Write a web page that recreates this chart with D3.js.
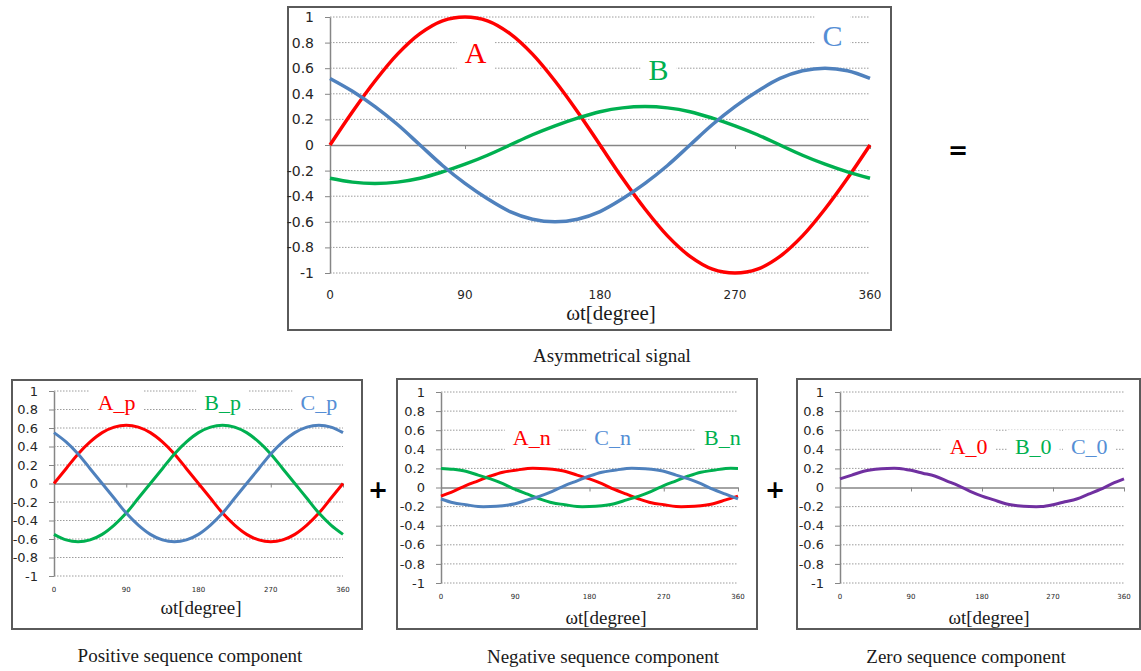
<!DOCTYPE html>
<html>
<head>
<meta charset="utf-8">
<script src="https://cdn.jsdelivr.net/npm/d3@7/dist/d3.min.js"></script>
<style>
  body { margin: 0; background: #fff; }
  svg { display: block; }
</style>
</head>
<body>
<script>
'use strict';

// angle samples, degree
const degrees = [0, 15, 30, 45, 60, 75, 90, 105, 120, 135, 150, 165, 180,
  195, 210, 225, 240, 255, 270, 285, 300, 315, 330, 345, 360];

const xTicks = [0, 90, 180, 270, 360];
const yTicks = [1, 0.8, 0.6, 0.4, 0.2, 0, -0.2, -0.4, -0.6, -0.8, -1];
const yTickLabels = ['1', '0.8', '0.6', '0.4', '0.2', '0', '-0.2', '-0.4', '-0.6', '-0.8', '-1'];

// asymmetrical signal
const signalA = [0, 0.26, 0.5, 0.71, 0.87, 0.97, 1, 0.97, 0.87, 0.71, 0.5, 0.26, 0,
  -0.26, -0.5, -0.71, -0.87, -0.97, -1, -0.97, -0.87, -0.71, -0.5, -0.26, 0];
const signalB = [-0.26, -0.29, -0.3, -0.29, -0.26, -0.21, -0.15, -0.08, 0, 0.08, 0.15, 0.21, 0.26,
  0.29, 0.3, 0.29, 0.26, 0.21, 0.15, 0.08, 0, -0.08, -0.15, -0.21, -0.26];
const signalC = [0.52, 0.42, 0.3, 0.16, 0, -0.16, -0.3, -0.42, -0.52, -0.58, -0.6, -0.58, -0.52,
  -0.42, -0.3, -0.16, 0, 0.16, 0.3, 0.42, 0.52, 0.58, 0.6, 0.58, 0.52];

// positive sequence
const posA = [0, 0.16, 0.32, 0.45, 0.55, 0.61, 0.63, 0.61, 0.55, 0.45, 0.32, 0.16, 0,
  -0.16, -0.32, -0.45, -0.55, -0.61, -0.63, -0.61, -0.55, -0.45, -0.32, -0.16, 0];
const posB = [-0.55, -0.61, -0.63, -0.61, -0.55, -0.45, -0.32, -0.16, 0, 0.16, 0.32, 0.45, 0.55,
  0.61, 0.63, 0.61, 0.55, 0.45, 0.32, 0.16, 0, -0.16, -0.32, -0.45, -0.55];
const posC = [0.55, 0.45, 0.32, 0.16, 0, -0.16, -0.32, -0.45, -0.55, -0.61, -0.63, -0.61, -0.55,
  -0.45, -0.32, -0.16, 0, 0.16, 0.32, 0.45, 0.55, 0.61, 0.63, 0.61, 0.55];

// negative sequence
const negA = [-0.09, -0.04, 0.02, 0.07, 0.12, 0.16, 0.18, 0.2, 0.2, 0.19, 0.17, 0.13, 0.09,
  0.04, -0.02, -0.07, -0.12, -0.16, -0.18, -0.2, -0.2, -0.19, -0.17, -0.13, -0.09];
const negB = [0.2, 0.19, 0.17, 0.13, 0.09, 0.04, -0.02, -0.07, -0.12, -0.16, -0.18, -0.2, -0.2,
  -0.19, -0.17, -0.13, -0.09, -0.04, 0.02, 0.07, 0.12, 0.16, 0.18, 0.2, 0.2];
const negC = [-0.12, -0.16, -0.18, -0.2, -0.2, -0.19, -0.17, -0.13, -0.09, -0.04, 0.02, 0.07, 0.12,
  0.16, 0.18, 0.2, 0.2, 0.19, 0.17, 0.13, 0.09, 0.04, -0.02, -0.07, -0.12];

// zero sequence (A_0 = B_0 = C_0)
const zeroSeq = [0.09, 0.13, 0.17, 0.19, 0.2, 0.2, 0.18, 0.15, 0.12, 0.07, 0.02, -0.04, -0.09,
  -0.13, -0.17, -0.19, -0.2, -0.2, -0.18, -0.15, -0.12, -0.07, -0.02, 0.04, 0.09];

(function() {

  const RED = '#ff0000', GREEN = '#00b050', BLUE = '#4f81bd', PURPLE = '#7030a0';
  const BLUE_TEXT = '#558ed5';
  const SERIF = '"Liberation Serif", "Times New Roman", serif';
  const SANS = '"DejaVu Sans", Verdana, sans-serif';

  let svg = null;

  // layout of the four charts; frame and plot are [left, top, right, bottom]
  const panels = [
    {
      frame: [288, 7, 891, 330], plot: [330, 17, 870, 273],
      lineWidth: 3.5, yFont: 14, xFont: 12, xLabelY: 295,
      title: 'ωt[degree]', titleX: 611, titleY: 313, titleFont: 21,
      caption: 'Asymmetrical signal', captionX: 612, captionY: 355,
      series: [[signalA, RED], [signalB, GREEN], [signalC, BLUE]],
      labelFont: 30,
      labels: [['A', RED, 97, 0.64], ['B', GREEN, 219, 0.51], ['C', BLUE_TEXT, 335, 0.77]]
    },
    {
      frame: [12, 380, 362, 629], plot: [54, 391, 343, 576],
      lineWidth: 3, yFont: 13, xFont: 7, xLabelY: 590,
      title: 'ωt[degree]', titleX: 201, titleY: 607, titleFont: 19,
      caption: 'Positive sequence component', captionX: 190, captionY: 655,
      series: [[posA, RED], [posB, GREEN], [posC, BLUE]],
      labelFont: 22,
      labels: [['A_p', RED, 78, 0.79], ['B_p', GREEN, 210, 0.79], ['C_p', BLUE_TEXT, 330, 0.79]]
    },
    {
      frame: [397, 379, 757, 629], plot: [441, 392, 738, 583],
      lineWidth: 3, yFont: 13, xFont: 7, xLabelY: 597,
      title: 'ωt[degree]', titleX: 606, titleY: 617, titleFont: 19,
      caption: 'Negative sequence component', captionX: 603, captionY: 656,
      series: [[negA, RED], [negB, GREEN], [negC, BLUE]],
      labelFont: 22,
      labels: [['A_n', RED, 110, 0.445], ['C_n', BLUE_TEXT, 208, 0.445], ['B_n', GREEN, 341, 0.445]]
    },
    {
      frame: [797, 379, 1140, 629], plot: [840, 392, 1124, 583],
      lineWidth: 3, yFont: 13, xFont: 7, xLabelY: 597,
      title: 'ωt[degree]', titleX: 989, titleY: 617, titleFont: 19,
      caption: 'Zero sequence component', captionX: 966, captionY: 656,
      series: [[zeroSeq, PURPLE]],
      labelFont: 22,
      labels: [['A_0', RED, 163, 0.35], ['B_0', GREEN, 245, 0.35], ['C_0', BLUE_TEXT, 316, 0.35]]
    }
  ];

  // the operators between the charts
  const operators = [['=', 958, 151], ['+', 378, 490], ['+', 775, 490]];

  window.onload = function() {
    svg = d3.select('body')
      .append('svg')
      .attr('width', 1141)
      .attr('height', 671);

    panels.forEach(drawPanel);

    svg.selectAll('.op')
      .data(operators)
      .join('text')
      .attr('class', 'op')
      .attr('x', d => d[1])
      .attr('y', d => d[2])
      .attr('text-anchor', 'middle')
      .attr('dominant-baseline', 'central')
      .style('font-family', SANS)
      .style('font-size', '24px')
      .style('font-weight', 'bold')
      .attr('fill', '#000')
      .text(d => d[0]);
  };

  function drawPanel(p) {
    const g = svg.append('g');

    let x = d3.scaleLinear().domain([0, 360]).range([p.plot[0], p.plot[2]]);
    let y = d3.scaleLinear().domain([-1, 1]).range([p.plot[3], p.plot[1]]);

    // outer frame
    g.append('rect')
      .attr('x', p.frame[0])
      .attr('y', p.frame[1])
      .attr('width', p.frame[2] - p.frame[0])
      .attr('height', p.frame[3] - p.frame[1])
      .attr('fill', '#fff')
      .attr('stroke', '#5a5a5a')
      .attr('stroke-width', 2);

    // dotted gridlines
    g.append('g').selectAll('line')
      .data(yTicks.filter(v => v !== 0))
      .join('line')
      .attr('x1', x(0))
      .attr('x2', x(360))
      .attr('y1', d => y(d))
      .attr('y2', d => y(d))
      .attr('stroke', '#9c9c9c')
      .attr('stroke-width', 1)
      .attr('stroke-dasharray', '1.5,1.5');

    // series labels, with a white box that hides the gridlines
    let lab = g.append('g');
    p.labels.forEach(l => {
      let t = lab.append('text')
        .attr('x', x(l[2]))
        .attr('y', y(l[3]))
        .attr('text-anchor', 'middle')
        .style('font-family', SERIF)
        .style('font-size', p.labelFont + 'px')
        .attr('fill', l[1])
        .text(l[0]);
      let b = t.node().getBBox();
      lab.insert('rect', 'text')
        .attr('x', b.x - 8)
        .attr('y', b.y - 4)
        .attr('width', b.width + 16)
        .attr('height', b.height + 8)
        .attr('fill', '#fff');
    });

    // y axis with tick labels
    let yAxis = d3.axisLeft(y)
      .tickValues(yTicks)
      .tickSize(5)
      .tickSizeOuter(0)
      .tickPadding(11)
      .tickFormat((d, i) => yTickLabels[i]);
    let ya = g.append('g')
      .attr('transform', `translate(${x(0)},0)`)
      .call(yAxis);
    ya.select('.domain').attr('stroke', '#868686').attr('stroke-width', 1.5);
    ya.selectAll('line').attr('stroke', '#868686');
    ya.selectAll('text')
      .style('font-family', SANS)
      .style('font-size', p.yFont + 'px')
      .attr('fill', '#262626');

    // x axis on the zero line
    let xAxis = d3.axisBottom(x)
      .tickValues(xTicks)
      .tickSize(4)
      .tickSizeOuter(0)
      .tickFormat('');
    let xa = g.append('g')
      .attr('transform', `translate(0,${y(0)})`)
      .call(xAxis);
    xa.select('.domain').attr('stroke', '#868686').attr('stroke-width', 1.5);
    xa.selectAll('line').attr('stroke', '#868686');

    // x tick labels sit below the plot
    g.append('g').selectAll('text')
      .data(xTicks)
      .join('text')
      .attr('x', d => x(d))
      .attr('y', p.xLabelY)
      .attr('text-anchor', 'middle')
      .attr('dominant-baseline', 'central')
      .style('font-family', SANS)
      .style('font-size', p.xFont + 'px')
      .attr('fill', '#262626')
      .text(d => d);

    // the curves
    let line = d3.line()
      .x((d, i) => x(degrees[i]))
      .y(d => y(d))
      .curve(d3.curveCatmullRom);
    g.append('g').selectAll('path')
      .data(p.series)
      .join('path')
      .attr('d', d => line(d[0]))
      .attr('fill', 'none')
      .attr('stroke', d => d[1])
      .attr('stroke-width', p.lineWidth)
      .attr('stroke-linejoin', 'round');

    // axis title
    g.append('text')
      .attr('x', p.titleX)
      .attr('y', p.titleY)
      .attr('text-anchor', 'middle')
      .attr('dominant-baseline', 'central')
      .style('font-family', SERIF)
      .style('font-size', p.titleFont + 'px')
      .attr('fill', '#1a1a1a')
      .text(p.title);

    // caption under the frame
    g.append('text')
      .attr('x', p.captionX)
      .attr('y', p.captionY)
      .attr('text-anchor', 'middle')
      .attr('dominant-baseline', 'central')
      .style('font-family', SERIF)
      .style('font-size', '19px')
      .attr('fill', '#1a1a1a')
      .text(p.caption);
  }

})();
</script>
</body>
</html>
